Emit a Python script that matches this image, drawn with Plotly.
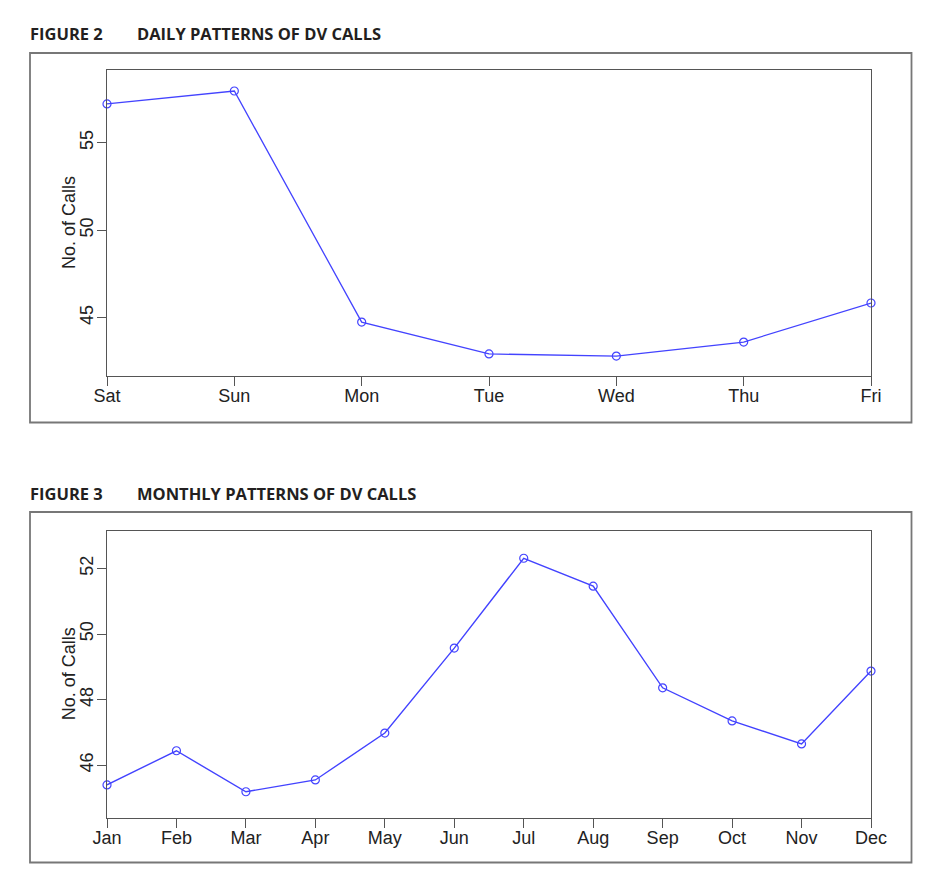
import plotly.graph_objects as go

days = ["Sat", "Sun", "Mon", "Tue", "Wed", "Thu", "Fri"]
daily_calls = [57.21, 57.95, 44.75, 42.93, 42.81, 43.61, 45.84]

months = ["Jan", "Feb", "Mar", "Apr", "May", "Jun", "Jul", "Aug", "Sep", "Oct", "Nov", "Dec"]
monthly_calls = [45.40, 46.44, 45.19, 45.55, 46.98, 49.57, 52.31, 51.46, 48.36, 47.35, 46.65, 48.87]

daily_yticks = [45, 50, 55]
monthly_yticks = [46, 48, 50, 52]

# page body has an 8px margin; figure fills the rest of the 932x888 window
OFF = 8
W, H = 932 - 2 * OFF, 888 - 2 * OFF


def px(x):
    return (x - OFF) / W


def py(y):
    return 1 - (y - OFF) / H


LINE = "#4343ff"
AX = "#555555"
FONT = "Liberation Sans, Arial, sans-serif"

fig = go.Figure()

fig.add_trace(go.Scatter(
    x=list(range(len(days))), y=daily_calls, mode="lines+markers",
    line=dict(color=LINE, width=1.3),
    marker=dict(symbol="circle-open", size=8, color=LINE, line=dict(width=1.2)),
    xaxis="x", yaxis="y", cliponaxis=False, showlegend=False))

fig.add_trace(go.Scatter(
    x=list(range(len(months))), y=monthly_calls, mode="lines+markers",
    line=dict(color=LINE, width=1.4),
    marker=dict(symbol="circle-open", size=8, color=LINE, line=dict(width=1.2)),
    xaxis="x2", yaxis="y2", cliponaxis=False, showlegend=False))

axis_common = dict(showline=True, linecolor=AX, linewidth=1.2, mirror=True,
                   ticks="outside", ticklen=9, tickcolor=AX, tickwidth=1.2,
                   showgrid=False, zeroline=False, automargin=False,
                   tickfont=dict(family=FONT, size=18, color="#222"))

fig.update_layout(
    template="none",
    width=W, height=H,
    margin=dict(l=0, r=0, t=0, b=0, autoexpand=False),
    paper_bgcolor="white", plot_bgcolor="white",
    showlegend=False,
    xaxis=dict(domain=[px(107), px(871)], range=[0, 6], anchor="y",
               tickmode="array", tickvals=list(range(len(days))), ticktext=days,
               ticklabelstandoff=-6, **axis_common),
    yaxis=dict(domain=[py(376), py(70)], range=[41.67, 59.15], anchor="x",
               tickmode="array", tickvals=daily_yticks, tickangle=-90,
               ticklabelstandoff=-3, **axis_common),
    xaxis2=dict(domain=[px(107), px(871)], range=[0, 11], anchor="y2",
                tickmode="array", tickvals=list(range(len(months))), ticktext=months,
                ticklabelstandoff=-6, **axis_common),
    yaxis2=dict(domain=[py(818), py(530.7)], range=[44.39, 53.15], anchor="x2",
                tickmode="array", tickvals=monthly_yticks, tickangle=-90,
                ticklabelstandoff=-3, **axis_common),
)

# outer frames
for (y0, y1) in [(53, 422.5), (512, 862.5)]:
    fig.add_shape(type="rect", xref="paper", yref="paper",
                  x0=px(30), x1=px(911.5), y0=py(y1), y1=py(y0),
                  line=dict(color="#777777", width=1.8), fillcolor="rgba(0,0,0,0)")

TFONT = dict(family="Open Sans, Lato, sans-serif", size=16.5, color="#231f20")
for (ytxt, fig_lbl, title) in [(33, "FIGURE 2", "DAILY PATTERNS OF DV CALLS"),
                               (493, "FIGURE 3", "MONTHLY PATTERNS OF DV CALLS")]:
    fig.add_annotation(x=px(28), y=py(ytxt), xref="paper", yref="paper",
                       text="<b>" + fig_lbl + "</b>", showarrow=False,
                       xanchor="left", yanchor="middle", font=TFONT)
    fig.add_annotation(x=px(135), y=py(ytxt), xref="paper", yref="paper",
                       text="<b>" + title + "</b>", showarrow=False,
                       xanchor="left", yanchor="middle", font=TFONT)

for yc in [(70 + 376) / 2, (530.7 + 818) / 2]:
    fig.add_annotation(x=px(69), y=py(yc), xref="paper", yref="paper",
                       text="No. of Calls", textangle=-90, showarrow=False,
                       xanchor="center", yanchor="middle",
                       font=dict(family=FONT, size=18, color="#222"))

fig.write_html("out.html")
